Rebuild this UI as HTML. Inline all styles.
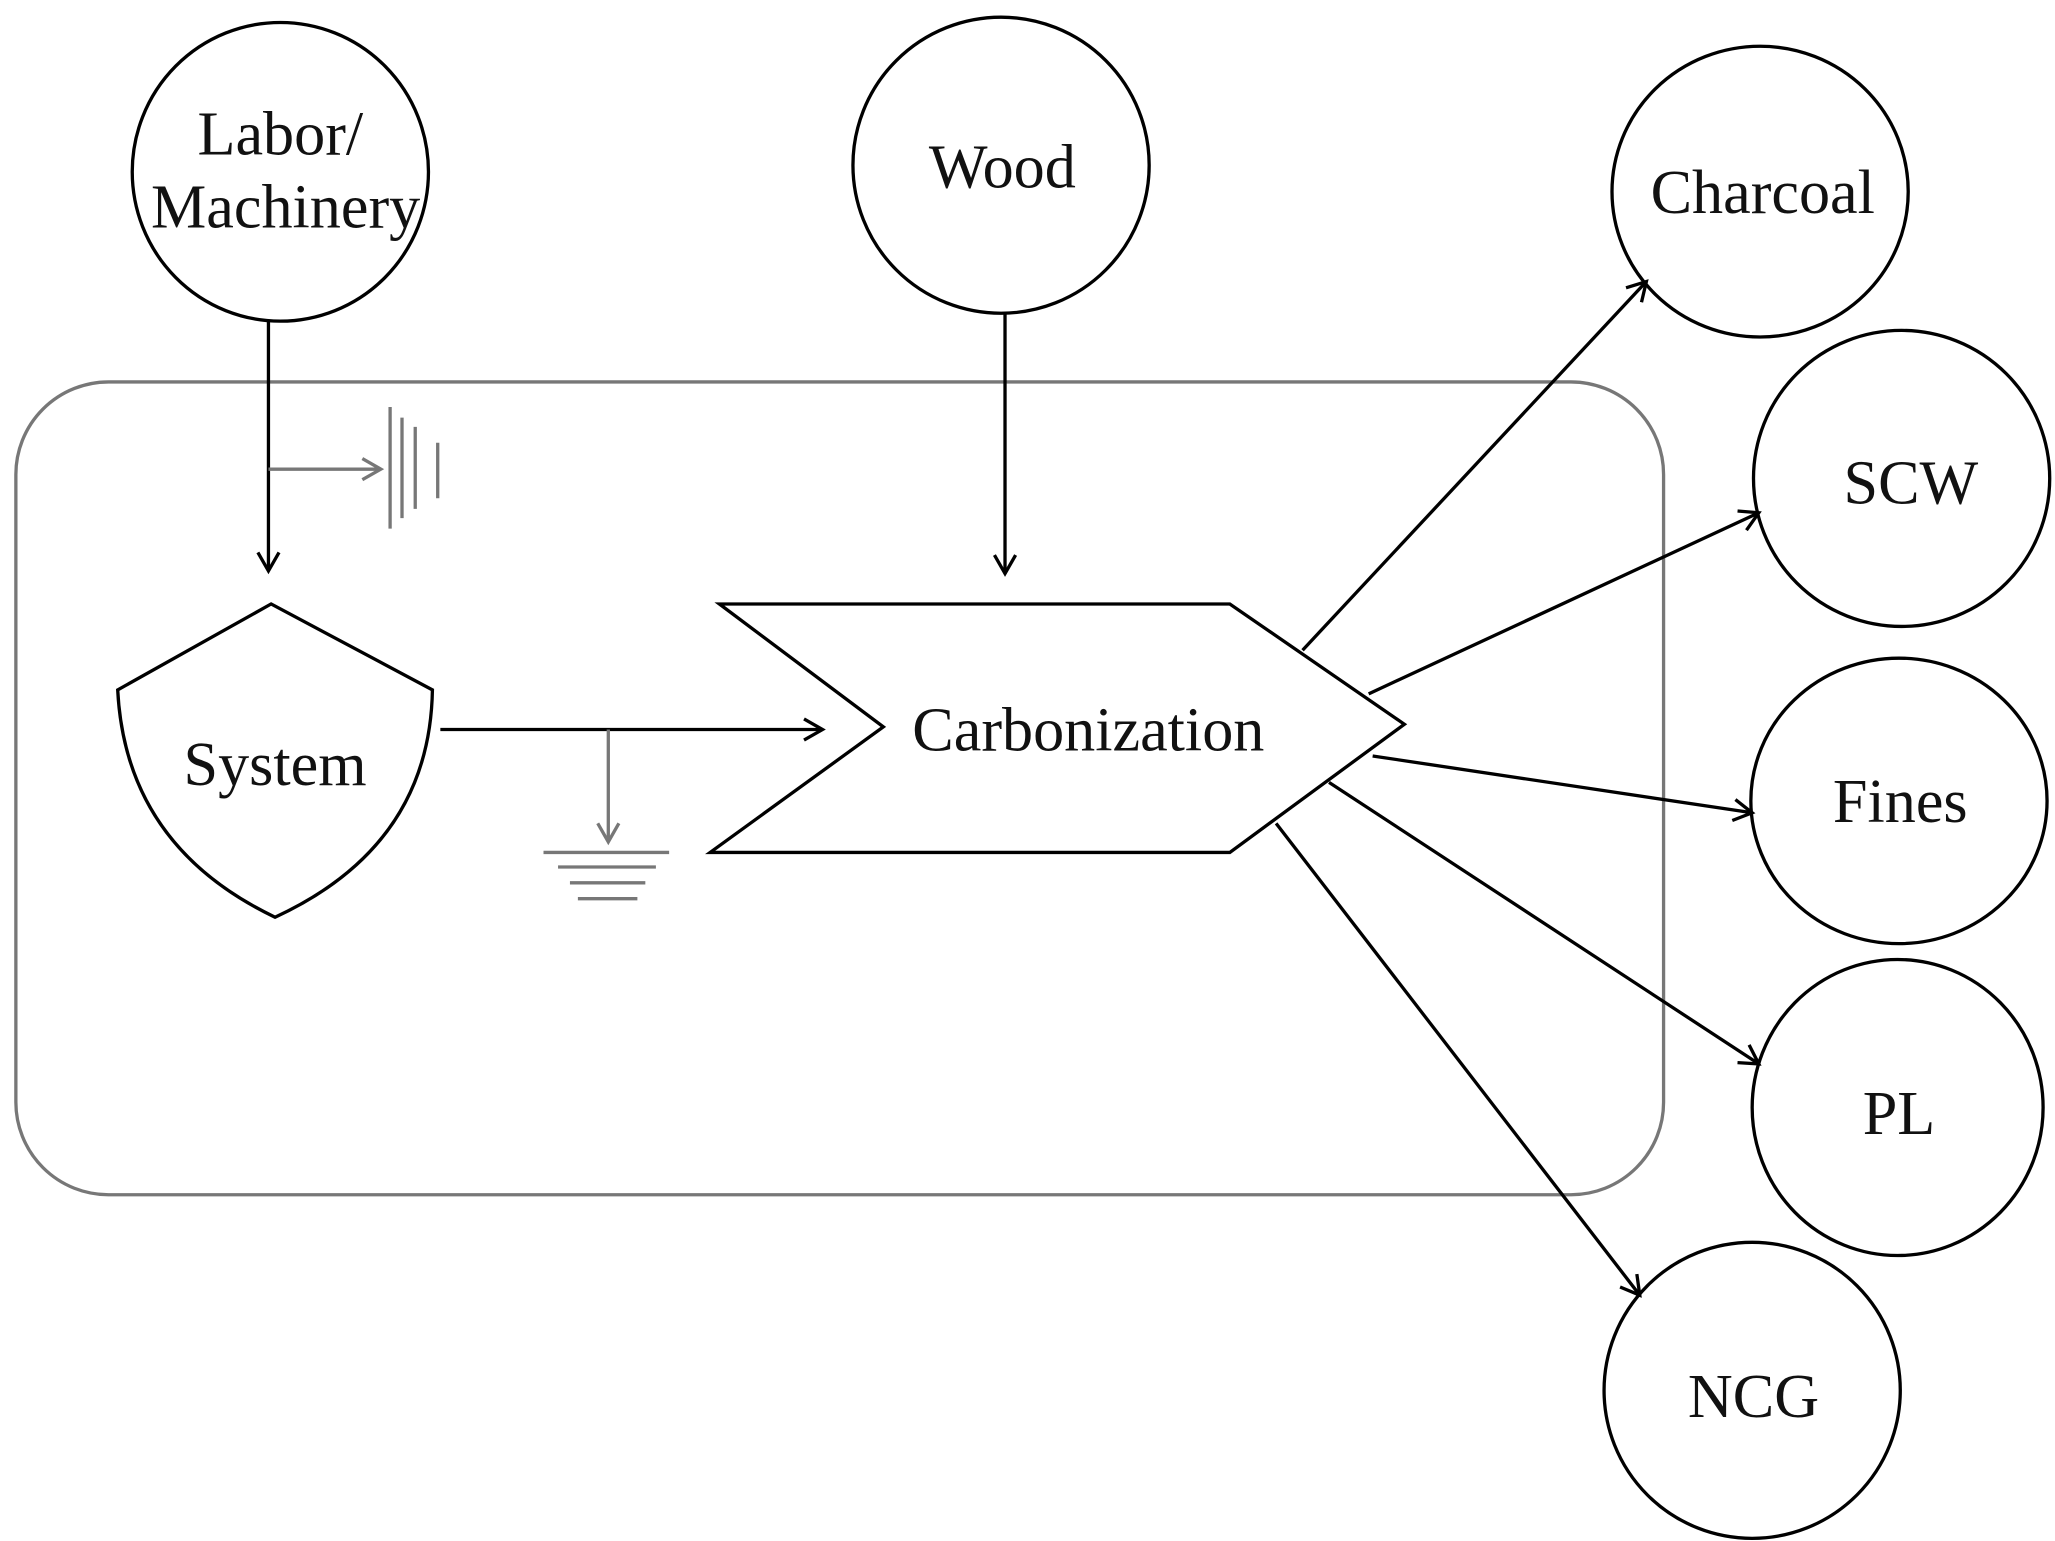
<!DOCTYPE html>
<html><head><meta charset="utf-8"><style>
html,body{margin:0;padding:0;background:#fff;}
svg{display:block;}
text{font-family:"Liberation Serif",serif;fill:#111;}
</style></head><body>
<svg width="2055" height="1541" viewBox="0 0 1554 1166" preserveAspectRatio="none" xmlns="http://www.w3.org/2000/svg">
<defs>
<marker id="a" markerWidth="20" markerHeight="20" refX="16" refY="10" orient="auto" markerUnits="userSpaceOnUse"><path d="M2,2 L16,10 L2,18" fill="none" stroke="#000" stroke-width="2.5"/></marker>
<marker id="g" markerWidth="20" markerHeight="20" refX="16" refY="10" orient="auto" markerUnits="userSpaceOnUse"><path d="M2,2 L16,10 L2,18" fill="none" stroke="#777" stroke-width="2.5"/></marker>
</defs>
<rect x="12" y="289" width="1246" height="615" rx="70" fill="none" stroke="#777" stroke-width="2.5"/>
<g fill="none" stroke="#000" stroke-width="2.5">
<ellipse cx="212" cy="130" rx="112" ry="113"/>
<ellipse cx="757" cy="125" rx="112" ry="112"/>
<ellipse cx="1331" cy="145" rx="112" ry="110"/>
<ellipse cx="1438" cy="362" rx="112" ry="112"/>
<ellipse cx="1436" cy="606" rx="112" ry="108"/>
<ellipse cx="1435" cy="838" rx="110" ry="112"/>
<ellipse cx="1325" cy="1052" rx="112" ry="112"/>
<path d="M205,457 L327,522 Q325,640 208,694 Q95,640 89,522 Z" fill="#fff"/>
<path d="M544,457 L930,457 L1062,548 L930,645 L537,645 L668,550 Z" fill="#fff"/>
<line x1="203" y1="243" x2="203" y2="432" marker-end="url(#a)"/>
<line x1="760" y1="237" x2="760" y2="434" marker-end="url(#a)"/>
<line x1="333" y1="552" x2="622" y2="552" marker-end="url(#a)"/>
<line x1="985" y1="492" x2="1245" y2="213" marker-end="url(#a)"/>
<line x1="1035" y1="525" x2="1330" y2="388" marker-end="url(#a)"/>
<line x1="1038" y1="572" x2="1325" y2="615" marker-end="url(#a)"/>
<line x1="1005" y1="592" x2="1330" y2="805" marker-end="url(#a)"/>
<line x1="965" y1="623" x2="1240" y2="980" marker-end="url(#a)"/>
</g>
<g fill="none" stroke="#777" stroke-width="2.5">
<line x1="203" y1="355" x2="288" y2="355" marker-end="url(#g)"/>
<line x1="295" y1="308" x2="295" y2="400"/>
<line x1="304" y1="316" x2="304" y2="392"/>
<line x1="314" y1="323" x2="314" y2="385"/>
<line x1="331" y1="335" x2="331" y2="377"/>
<line x1="460" y1="552" x2="460" y2="637" marker-end="url(#g)"/>
<line x1="411" y1="645" x2="506" y2="645"/>
<line x1="422" y1="656" x2="496" y2="656"/>
<line x1="431" y1="668" x2="488" y2="668"/>
<line x1="437" y1="680" x2="482" y2="680"/>
</g>
<g font-size="47" text-anchor="middle">
<text x="212" y="117">Labor/</text>
<text x="216" y="172">Machinery</text>
<text x="758" y="142">Wood</text>
<text x="1333" y="161">Charcoal</text>
<text x="1445" y="381">SCW</text>
<text x="1437" y="622">Fines</text>
<text x="1436" y="858">PL</text>
<text x="1326" y="1072">NCG</text>
<text x="208" y="594">System</text>
<text x="823" y="568">Carbonization</text>
</g>
</svg>
</body></html>
